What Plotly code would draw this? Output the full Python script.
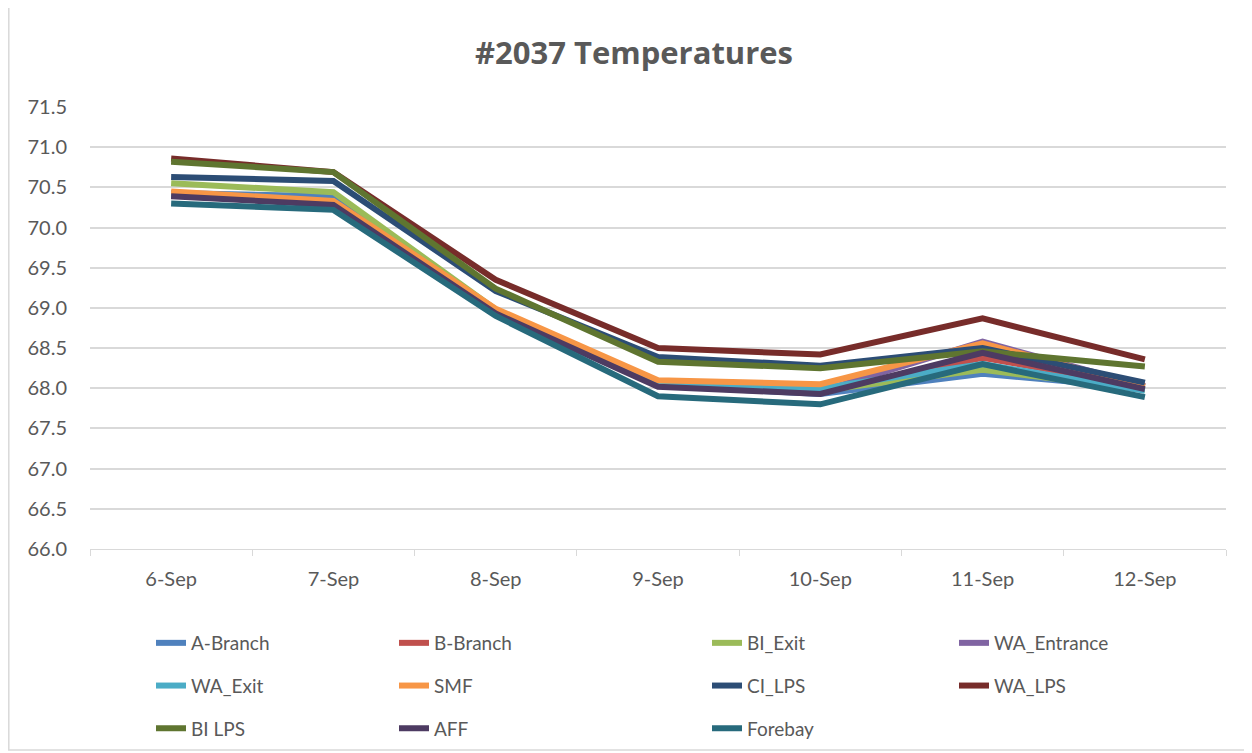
import plotly.graph_objects as go

dates = ["6-Sep", "7-Sep", "8-Sep", "9-Sep", "10-Sep", "11-Sep", "12-Sep"]

a_branch    = [70.43, 70.39, 68.95, 68.03, 67.93, 68.18, 68.00]
b_branch    = [70.42, 70.30, 68.96, 68.05, 67.95, 68.38, 68.02]
bi_exit     = [70.55, 70.44, 68.98, 68.06, 67.97, 68.23, 67.98]
wa_entrance = [70.40, 70.29, 68.95, 68.04, 67.96, 68.58, 68.03]
wa_exit     = [70.41, 70.31, 68.96, 68.06, 68.00, 68.30, 67.97]
smf         = [70.45, 70.33, 68.99, 68.10, 68.05, 68.56, 68.02]
ci_lps      = [70.63, 70.58, 69.21, 68.39, 68.28, 68.50, 68.07]
wa_lps      = [70.86, 70.69, 69.35, 68.50, 68.42, 68.87, 68.36]
bi_lps      = [70.82, 70.69, 69.24, 68.33, 68.25, 68.46, 68.27]
aff         = [70.39, 70.28, 68.93, 68.02, 67.93, 68.44, 67.99]
forebay     = [70.30, 70.22, 68.90, 67.90, 67.80, 68.30, 67.89]

series = [
    ("A-Branch", a_branch, "#4F81BD", "legend"),
    ("B-Branch", b_branch, "#C0504D", "legend2"),
    ("BI_Exit", bi_exit, "#9BBB59", "legend3"),
    ("WA_Entrance", wa_entrance, "#8064A2", "legend4"),
    ("WA_Exit", wa_exit, "#4BACC6", "legend"),
    ("SMF", smf, "#F79646", "legend2"),
    ("CI_LPS", ci_lps, "#2C4D75", "legend3"),
    ("WA_LPS", wa_lps, "#772C2A", "legend4"),
    ("BI LPS", bi_lps, "#5F7530", "legend"),
    ("AFF", aff, "#4D3B62", "legend2"),
    ("Forebay", forebay, "#276A7C", "legend3"),
]

fig = go.Figure()
for i, (name, vals, color, lg) in enumerate(series):
    fig.add_trace(go.Scatter(
        x=dates, y=vals, name=name, mode="lines",
        line=dict(color=color, width=6),
        legend=lg, legendgroup=name, legendrank=i,
    ))

font_family = "Lato, 'Open Sans', sans-serif"
text_color = "#595959"

def legend_cfg(px):
    return dict(
        x=px / 1252, y=1 - 616 / 753, xref="container", yref="container",
        xanchor="left", yanchor="top", orientation="v",
        font=dict(family=font_family, size=19, color=text_color),
        bgcolor="rgba(0,0,0,0)", tracegroupgap=15, itemwidth=30,
    )

L, T, W, H = 82, 99, 1136, 442

fig.update_layout(
    width=1252, height=753,
    paper_bgcolor="white", plot_bgcolor="white",
    margin=dict(l=L, r=1252 - L - W, t=T, b=753 - T - H, autoexpand=False),
    title=dict(text="<b>#2037 Temperatures</b>", x=0.5, xanchor="center",
               xref="container",
               y=1 - 45 / 753, yanchor="middle",
               font=dict(family="'Open Sans', sans-serif", size=31, color=text_color)),
    font=dict(family=font_family, size=20, color=text_color),
    legend=legend_cfg(143),
    legend2=legend_cfg(386),
    legend3=legend_cfg(699),
    legend4=legend_cfg(946),
    shapes=[dict(type="rect", xref="paper", yref="paper",
                 x0=(0.8 - L) / W, x1=(1242 - L) / W,
                 y0=-(742 - T - H) / H, y1=1 + (T + 5) / H,
                 line=dict(color="#D9D9D9", width=1.5))],
)

fig.update_xaxes(
    type="category", tickson="boundaries", ticks="outside", ticklen=6,
    range=[-0.5, len(dates) - 0.5],
    tickcolor="#D9D9D9", showline=True, linecolor="#D9D9D9", linewidth=1,
    showgrid=False, ticklabelstandoff=12, tickangle=0,
    tickfont=dict(family=font_family, size=20, color=text_color),
)
fig.update_yaxes(
    range=[66.0, 71.5], dtick=0.5, tick0=66, tickformat=".1f",
    showgrid=True, gridcolor="#D9D9D9", gridwidth=1.5, zeroline=False,
    showline=False, ticklabelstandoff=22,
    tickfont=dict(family=font_family, size=20, color=text_color),
)

fig.write_html("out.html")
